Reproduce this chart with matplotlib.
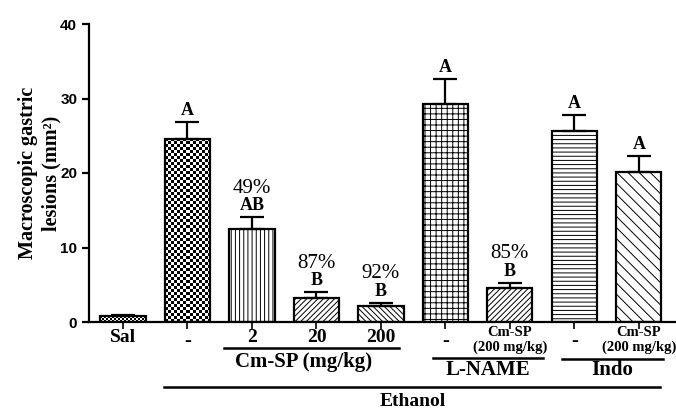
import numpy as np
import matplotlib.pyplot as plt
from matplotlib.transforms import blended_transform_factory

# data
groups = ['Sal', '-', '2', '20', '200', '-', 'Cm-SP\n(200 mg/kg)', '-', 'Cm-SP\n(200 mg/kg)']
means = [0.8, 24.6, 12.5, 3.2, 2.1, 29.2, 4.5, 25.6, 20.1]
sem = [0.15, 2.2, 1.6, 0.8, 0.5, 3.4, 0.8, 2.2, 2.2]
letters = ['', 'A', 'AB', 'B', 'B', 'A', 'B', 'A', 'A']
inhibition = ['', '', '49%', '87%', '92%', '', '85%', '', '']
hatches = ['checker_fine', 'checker', '||||', '//////', '\\\\\\\\\\\\', '+++', '//////', '----', '\\\\\\']

plt.rcParams['hatch.linewidth'] = 0.7
serif = 'Liberation Serif'

fig = plt.figure(figsize=(6.76, 4.12), dpi=100)
ax = fig.add_axes([89 / 676, 1 - 322 / 412, 586 / 676, 298 / 412])

x = np.arange(len(means))
width = 0.7
ax.set_xlim(-0.527, 8.56)
ax.set_ylim(0, 40)

for i in range(len(means)):
    h = hatches[i]
    if h.startswith('checker'):
        cell = 2 if h == 'checker_fine' else 3
        # checkerboard texture sized in pixels
        x0, x1 = x[i] - width / 2, x[i] + width / 2
        p0 = ax.transData.transform((x0, 0))
        p1 = ax.transData.transform((x1, means[i]))
        nx = max(1, int(round((p1[0] - p0[0]) / cell)))
        ny = max(1, int(round((p1[1] - p0[1]) / cell)))
        board = (np.add.outer(np.arange(ny), np.arange(nx)) % 2).astype(float)
        ax.imshow(board, extent=[x0, x1, 0, means[i]], cmap='gray', vmin=0, vmax=1,
                  interpolation='nearest', aspect='auto', zorder=1)
        ax.bar(x[i], means[i], width, facecolor='none', edgecolor='black',
               linewidth=1.6, zorder=2)
    else:
        ax.bar(x[i], means[i], width, facecolor='white', edgecolor='black',
               hatch=h, linewidth=1.6, zorder=2)
    ax.errorbar(x[i], means[i], yerr=[[0], [sem[i]]], fmt='none', ecolor='black',
                elinewidth=1.6, capsize=8.5, capthick=1.6, zorder=3)
    top = means[i] + sem[i]
    if letters[i]:
        ax.text(x[i], top + 0.4, letters[i], ha='center', va='bottom',
                fontsize=13, fontweight='bold', family=serif)
    if inhibition[i]:
        ax.text(x[i], top + 2.6, inhibition[i], ha='center', va='bottom',
                fontsize=15, family=serif)

ax.set_xlim(-0.527, 8.56)
ax.set_ylim(0, 40)

for s in ['top', 'right']:
    ax.spines[s].set_visible(False)
for s in ['left', 'bottom']:
    ax.spines[s].set_linewidth(1.6)

ax.set_yticks([0, 10, 20, 30, 40])
ax.tick_params(axis='y', width=1.6, length=5, labelsize=11)
for t in ax.get_yticklabels():
    t.set_fontweight('bold')
    t.set_family('Liberation Sans')
ax.set_xticks(x)
ax.set_xticklabels([])
ax.tick_params(axis='x', width=1.2, length=5)

ax.set_ylabel('Macroscopic gastric\nlesions (mm²)', fontsize=14.5,
              fontweight='bold', family=serif, linespacing=1.25)
ax.yaxis.set_label_coords(-0.047, 0.5)

# labels below the axis
tr = blended_transform_factory(ax.transData, fig.transFigure)


def fy(py):
    return 1 - py / 412


for i, g in enumerate(groups):
    if g.startswith('Cm-SP'):
        ax.text(x[i], fy(332), 'Cm-SP', transform=tr, ha='center', va='center',
                fontsize=10.5, fontweight='bold', family=serif)
        ax.text(x[i], fy(347), '(200 mg/kg)', transform=tr, ha='center', va='center',
                fontsize=10.5, fontweight='bold', family=serif)
    elif g == '-':
        ax.text(x[i], fy(341), '-', transform=tr, ha='center', va='center',
                fontsize=15, fontweight='bold', family=serif)
    else:
        ax.text(x[i], fy(338), g, transform=tr, ha='center', va='center',
                fontsize=14, fontweight='bold', family=serif)

brackets = [
    (1.566, 4.28, 348, 'Cm-SP (mg/kg)', 362, 2.8),
    (4.81, 6.51, 358, 'L-NAME', 370, 5.66),
    (6.81, 8.37, 359, 'Indo', 370, 7.59),
    (0.64, 8.33, 387, 'Ethanol', 401, 4.5),
]
for xa, xb, py, label, ty, tx in brackets:
    ax.plot([xa, xb], [fy(py), fy(py)], transform=tr, color='black', lw=1.8,
            clip_on=False)
    ax.text(tx, fy(ty), label, transform=tr, ha='center', va='center',
            fontsize=14 if label == 'Ethanol' else 15, fontweight='bold', family=serif)

fig.savefig('out.png', dpi=100)
